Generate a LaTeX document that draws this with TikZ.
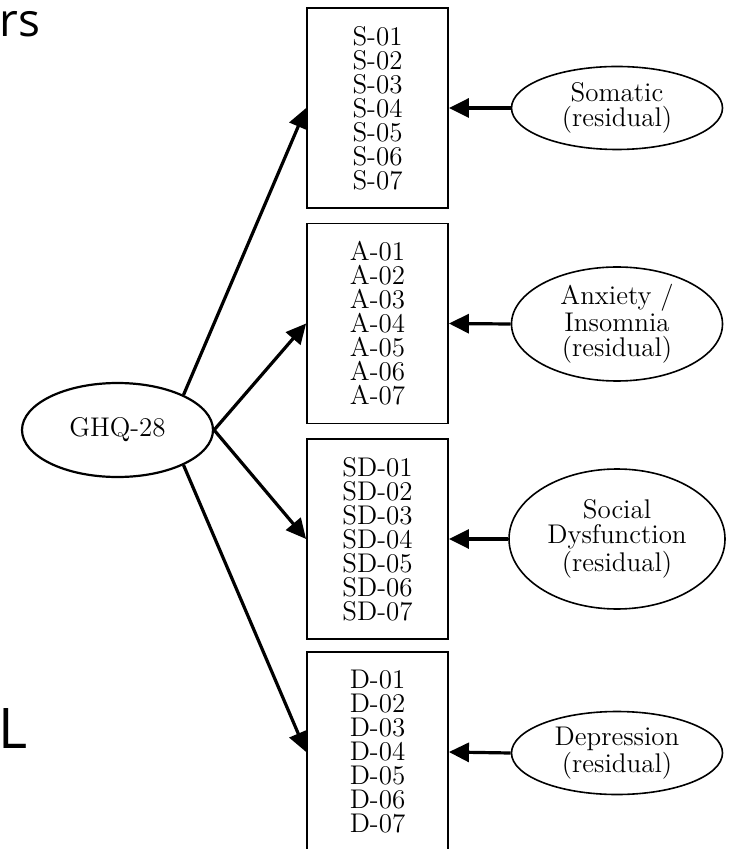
\documentclass[tikz,border=0pt]{standalone}
\usepackage{fontspec}
\newfontfamily\fragfont{Open Sans}
\usetikzlibrary{arrows.meta,shapes.geometric}
\begin{document}
\begin{tikzpicture}[x=0.5pt,y=-0.5pt,
  itembox/.style={draw, line width=0.9pt, minimum width=70.5pt, minimum height=100pt,
    inner sep=0pt, align=center, font=\fontsize{13.5}{12}\selectfont},
  resid/.style={draw, ellipse, line width=0.8pt, minimum width=105.5pt, inner sep=0pt,
    align=center, font=\fontsize{13.5}{12.5}\selectfont},
  factor/.style={draw, ellipse, line width=1.1pt, minimum width=95.5pt, minimum height=47pt,
    inner sep=0pt, font=\fontsize{13.5}{13.5}\selectfont},
  link/.style={line width=1.6pt, -{Triangle[length=10pt,width=9.5pt]}},
  frag/.style={inner sep=0pt, anchor=base west}]
\useasboundingbox (0,0) rectangle (729,849);

\node[frag, font=\fragfont\fontsize{23}{23}\selectfont] (t1) at (-1,37) {rs};
\node[frag, font=\fragfont\fontsize{28}{28}\selectfont] (t2) at (-2,748) {L};

\node[itembox] (s) at (377.5,108) {S-01\\S-02\\S-03\\S-04\\S-05\\S-06\\S-07};
\node[itembox] (a) at (377.5,323.5) {A-01\\A-02\\A-03\\A-04\\A-05\\A-06\\A-07};
\node[itembox] (sd) at (377.5,539) {SD-01\\SD-02\\SD-03\\SD-04\\SD-05\\SD-06\\SD-07};
\node[itembox] (d) at (377.5,752) {D-01\\D-02\\D-03\\D-04\\D-05\\D-06\\D-07};

\node[resid, minimum height=41.5pt] (rs) at (617,108) {Somatic\\(residual)};
\node[resid, minimum height=57pt] (ra) at (617,324) {Anxiety /\\Insomnia\\(residual)};
\node[resid, minimum height=70pt, minimum width=108pt] (rsd) at (617,539) {Social\\Dysfunction\\(residual)};
\node[resid, minimum height=41.5pt] (rd) at (617,753) {Depression\\(residual)};

\node[factor] (g) at (117.5,430) {GHQ-28};

\draw[link] (g.28) -- (s.west);
\draw[link] (g.east) -- (a.west);
\draw[link] (g.east) -- (sd.west);
\draw[link] (g.-28) -- (d.west);

\draw[link] (rs.west) -- (s.east);
\draw[link] (ra.west) -- (a.east);
\draw[link] (rsd.west) -- (sd.east);
\draw[link] (rd.west) -- (d.east);
\end{tikzpicture}
\end{document}
